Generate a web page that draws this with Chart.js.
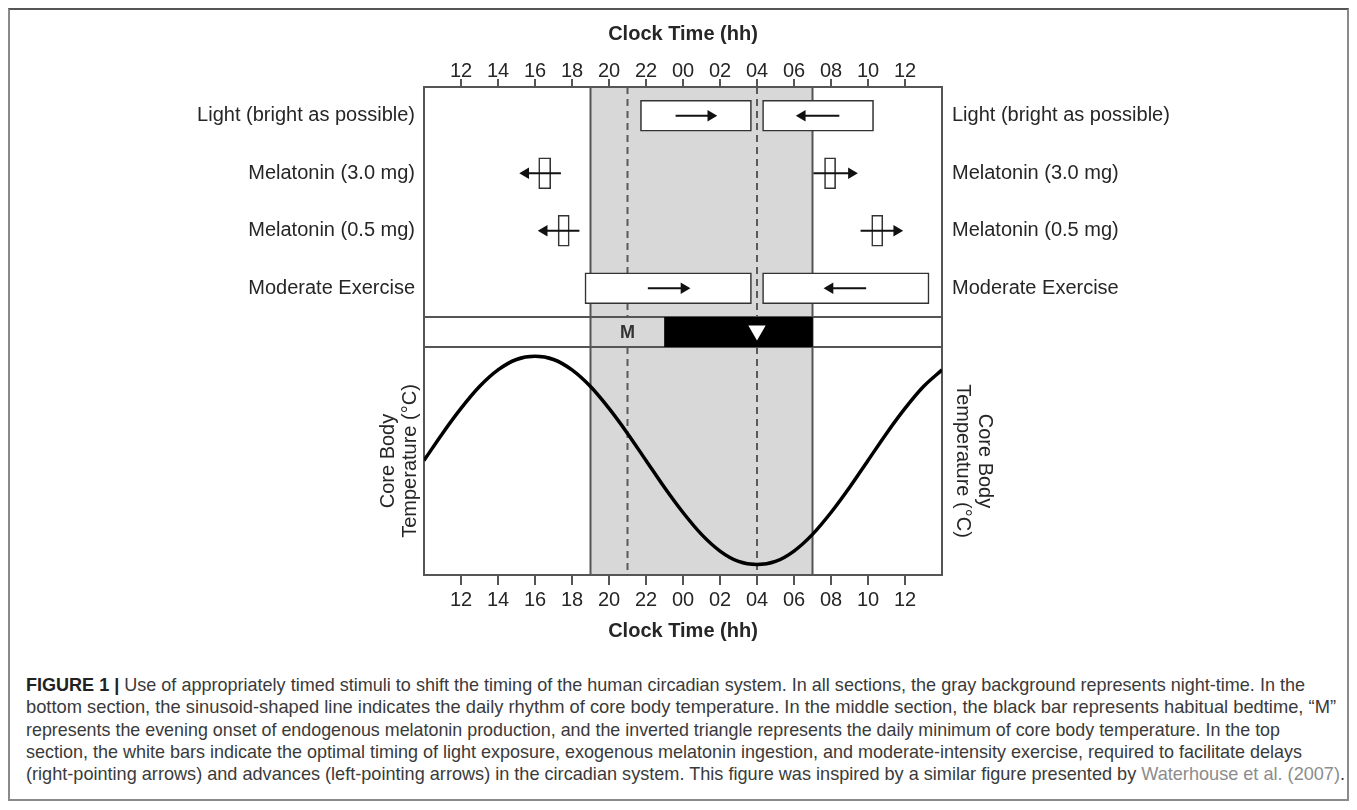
<!DOCTYPE html>
<html>
<head>
<meta charset="utf-8">
<title>Circadian stimuli timing</title>
<script src="https://cdn.jsdelivr.net/npm/chart.js@4.4.1/dist/chart.umd.min.js"></script>
<style>
  body { margin: 0; background: #fff; font-family: 'Liberation Sans', Arial, sans-serif; }
  #frame { position: absolute; left: 8px; top: 8px; width: 1341px; height: 793px; box-sizing: border-box;
           border: 2px solid #8a8a8a; border-top-color: #555; }
  #wrap { position: absolute; left: 0; top: 0; width: 1357px; height: 650px; }
  #caption { position: absolute; left: 26px; top: 674px; font-size: 19px; color: #3a3a3a; }
  .line { white-space: nowrap; height: 22.3px; line-height: 22.3px; transform-origin: 0 50%; }
  .line b { color: #222; }
  .ref { color: #8c8c8c; }
</style>
</head>
<body>
<div id="frame"></div>
<div id="wrap"><canvas id="chart" width="1357" height="650"></canvas></div>
<div id="caption"></div>
<script>
// hours on a continuous clock (24 = midnight, 36 = noon next day)
const hours = [10, 11, 12, 13, 14, 15, 16, 17, 18, 19, 20, 21, 22, 23, 24, 25, 26, 27, 28, 29, 30, 31, 32, 33, 34, 35, 36, 37, 38];
const coreTemp = [0.00, 0.26, 0.50, 0.71, 0.87, 0.97, 1.00, 0.97, 0.87, 0.71, 0.50, 0.26, 0.00, -0.26, -0.50, -0.71,
                  -0.87, -0.97, -1.00, -0.97, -0.87, -0.71, -0.50, -0.26, 0.00, 0.26, 0.50, 0.71, 0.87];

const rows = ['Light (bright as possible)', 'Melatonin (3.0 mg)', 'Melatonin (0.5 mg)', 'Moderate Exercise'];
// white bars, one per row: delay (right arrow) and advance (left arrow)
const delayBars = [[21.7, 27.7], [31.65, 32.25], [34.2, 34.8], [18.7, 27.7]];
const advanceBars = [[28.3, 34.3], [16.2, 16.85], [17.25, 17.85], [28.3, 37.3]];
// arrows: [tail, head]
const delayArrows = [[23.6, 25.5], [31.05, 33.1], [33.6, 35.55], [22.1, 24.05]];
const advanceArrows = [[32.45, 30.45], [17.4, 15.5], [18.4, 16.5], [33.9, 31.95]];

const night = [19, 31];
const bedtime = [23, 31];
const melatoninOnset = 21;
const tempMinHour = 28;

const tickHours = [12, 14, 16, 18, 20, 22, 24, 26, 28, 30, 32, 34, 36];
const tickLabels = ['12', '14', '16', '18', '20', '22', '00', '02', '04', '06', '08', '10', '12'];

const captionLines = [
  'FIGURE 1 | Use of appropriately timed stimuli to shift the timing of the human circadian system. In all sections, the gray background represents night-time. In the',
  'bottom section, the sinusoid-shaped line indicates the daily rhythm of core body temperature. In the middle section, the black bar represents habitual bedtime, \u201cM\u201d',
  'represents the evening onset of endogenous melatonin production, and the inverted triangle represents the daily minimum of core body temperature. In the top',
  'section, the white bars indicate the optimal timing of light exposure, exogenous melatonin ingestion, and moderate-intensity exercise, required to facilitate delays',
  '(right-pointing arrows) and advances (left-pointing arrows) in the circadian system. This figure was inspired by a similar figure presented by Waterhouse et al. (2007).'
];
const captionEnds = [1305, 1336, 1280, 1302, 1345];

const ink = '#262626';
const edge = '#555';
Chart.defaults.font.family = "'Liberation Sans', Arial, sans-serif";
Chart.defaults.color = ink;

const nightShade = {
  id: 'nightShade',
  beforeDraw(chart) {
    const {ctx, chartArea: a, scales} = chart;
    const x = scales.x, mid = scales.yMid;
    const x0 = x.getPixelForValue(night[0]), x1 = x.getPixelForValue(night[1]);
    ctx.save();
    ctx.fillStyle = '#d8d8d8';
    ctx.fillRect(x0, a.top, x1 - x0, a.bottom - a.top);
    ctx.strokeStyle = edge;
    ctx.lineWidth = 2;
    ctx.beginPath();
    [x0, x1].forEach(px => { ctx.moveTo(px, a.top); ctx.lineTo(px, a.bottom); });
    ctx.stroke();
    ctx.setLineDash([7, 5]);
    ctx.strokeStyle = '#5a5a5a';
    ctx.beginPath();
    [melatoninOnset, tempMinHour].forEach(h => {
      const px = x.getPixelForValue(h);
      ctx.moveTo(px, a.top); ctx.lineTo(px, mid.top);
      ctx.moveTo(px, mid.bottom); ctx.lineTo(px, a.bottom);
    });
    ctx.stroke();
    ctx.restore();
  },
  afterDatasetsDraw(chart) {
    const {ctx, scales} = chart;
    const mid = scales.yMid;
    ctx.save();
    ctx.font = "bold 18px 'Liberation Sans', Arial, sans-serif";
    ctx.fillStyle = '#333';
    ctx.textAlign = 'center';
    ctx.textBaseline = 'middle';
    ctx.fillText('M', scales.x.getPixelForValue(melatoninOnset), (mid.top + mid.bottom) / 2 + 1);
    ctx.restore();
  }
};

function arrow(a, row, rot) {
  return {
    type: 'line', xAxisID: 'x', yAxisID: 'yTop', order: 0,
    data: [{x: a[0], y: row}, {x: a[1], y: row}],
    borderColor: '#111', borderWidth: 2,
    pointStyle: 'triangle', pointRadius: [0, 6.5], pointRotation: [0, rot],
    pointBackgroundColor: '#111', pointBorderWidth: 0
  };
}

function whiteBars(data) {
  return {
    type: 'bar', indexAxis: 'y', xAxisID: 'x', yAxisID: 'yTop', order: 2,
    data: data, grouped: false, barThickness: 31,
    backgroundColor: '#fff', borderColor: '#333', borderWidth: 1.6, borderSkipped: false
  };
}

const datasets = [
  whiteBars(delayBars),
  whiteBars(advanceBars),
  {
    type: 'bar', indexAxis: 'y', xAxisID: 'x', yAxisID: 'yMid', order: 2,
    data: [{x: bedtime, y: 0.5}], grouped: false, barThickness: 30,
    backgroundColor: '#000', borderWidth: 0
  },
  {
    type: 'line', xAxisID: 'x', yAxisID: 'yMid', order: 0, showLine: false,
    data: [{x: tempMinHour, y: 0.55}],
    pointStyle: 'triangle', pointRadius: 10, pointRotation: 180,
    pointBackgroundColor: '#fff', pointBorderWidth: 0
  },
  {
    type: 'line', xAxisID: 'x', yAxisID: 'yBot', order: 3,
    data: hours.map((h, i) => ({x: h, y: coreTemp[i]})),
    borderColor: '#000', borderWidth: 3.5, pointRadius: 0, cubicInterpolationMode: 'monotone'
  }
];
delayArrows.forEach((a, i) => datasets.push(arrow(a, rows[i], 90)));
advanceArrows.forEach((a, i) => datasets.push(arrow(a, rows[i], -90)));

const tickFont = {size: 20};
const titleFont = {size: 20, weight: 'bold'};
const axisBorder = {color: edge, width: 2};

function timeAxis(pos, height, tickLen, pad, titlePad) {
  return {
    type: 'linear', position: pos, min: 10, max: 38, offset: false,
    afterBuildTicks: axis => { axis.ticks = tickHours.map(v => ({value: v})); },
    afterFit: axis => { axis.height = height; },
    ticks: {
      autoSkip: false, maxRotation: 0, font: {size: 20, lineHeight: 1}, padding: pad,
      callback: v => tickLabels[tickHours.indexOf(v)]
    },
    grid: {drawOnChartArea: false, drawTicks: true, tickLength: tickLen, color: edge, lineWidth: 2, offset: false},
    border: axisBorder,
    title: {display: true, text: 'Clock Time (hh)', font: titleFont, color: ink, padding: titlePad}
  };
}

function sideAxes(pos, w, stack, weights, labelPad, titlePad) {
  const fix = axis => { axis.width = w; };
  return {
    top: {
      type: 'category', labels: rows, position: pos, stack: stack, stackWeight: 230, weight: weights[0],
      offset: true, afterFit: fix,
      grid: {display: false, drawTicks: false}, border: axisBorder,
      ticks: {font: tickFont, padding: labelPad, color: ink}
    },
    mid: {
      type: 'linear', position: pos, stack: stack, stackWeight: 30, weight: weights[1],
      min: 0, max: 1, offset: false, afterFit: fix,
      ticks: {display: false, stepSize: 1},
      grid: {display: pos === 'left', drawTicks: false, color: edge, lineWidth: 2, offset: false},
      border: axisBorder
    },
    bot: {
      type: 'linear', position: pos, stack: stack, stackWeight: 228, weight: weights[2],
      min: -1.1, max: 1.09, afterFit: fix,
      ticks: {display: false}, grid: {display: false}, border: axisBorder,
      title: {display: true, text: ['Core Body', 'Temperature (\u00b0C)'], font: {size: 20, lineHeight: 1.1},
              color: ink, padding: {top: titlePad}}
    }
  };
}

const L = sideAxes('left', 424, 'plot', [3, 2, 1], 9, 377);
const R = sideAxes('right', 415, 'plot', [1, 2, 3], 10, 361);

new Chart(document.getElementById('chart'), {
  type: 'bar',
  data: {datasets: datasets},
  plugins: [nightShade],
  options: {
    responsive: false,
    animation: false,
    events: [],
    layout: {padding: 0},
    plugins: {legend: {display: false}, tooltip: {enabled: false}},
    scales: {
      x: timeAxis('bottom', 75, 10, 5, {top: 4, bottom: 7}),
      xTop: timeAxis('top', 87, 8, -2, {top: 22, bottom: 4}),
      yTop: L.top, yMid: L.mid, yBot: L.bot,
      yTopR: R.top, yMidR: R.mid, yBotR: R.bot
    }
  }
});

const cap = document.getElementById('caption');
captionLines.forEach((t, i) => {
  const div = document.createElement('div');
  div.className = 'line';
  let html = t;
  if (i === 0) html = html.replace('FIGURE 1 |', '<b>FIGURE 1 |</b>');
  if (i === captionLines.length - 1) html = html.replace('Waterhouse et al. (2007)', '<span class="ref">Waterhouse et al. (2007)</span>');
  div.innerHTML = html;
  cap.appendChild(div);
});
function fitCaption() {
  Array.from(cap.children).forEach((div, i) => {
    div.style.display = 'inline-block';
    const w = div.getBoundingClientRect().width;
    div.style.display = 'block';
    div.style.width = w + 'px';
    div.style.transform = 'scaleX(' + ((captionEnds[i] - 26) / w) + ')';
  });
}
fitCaption();
</script>
</body>
</html>
